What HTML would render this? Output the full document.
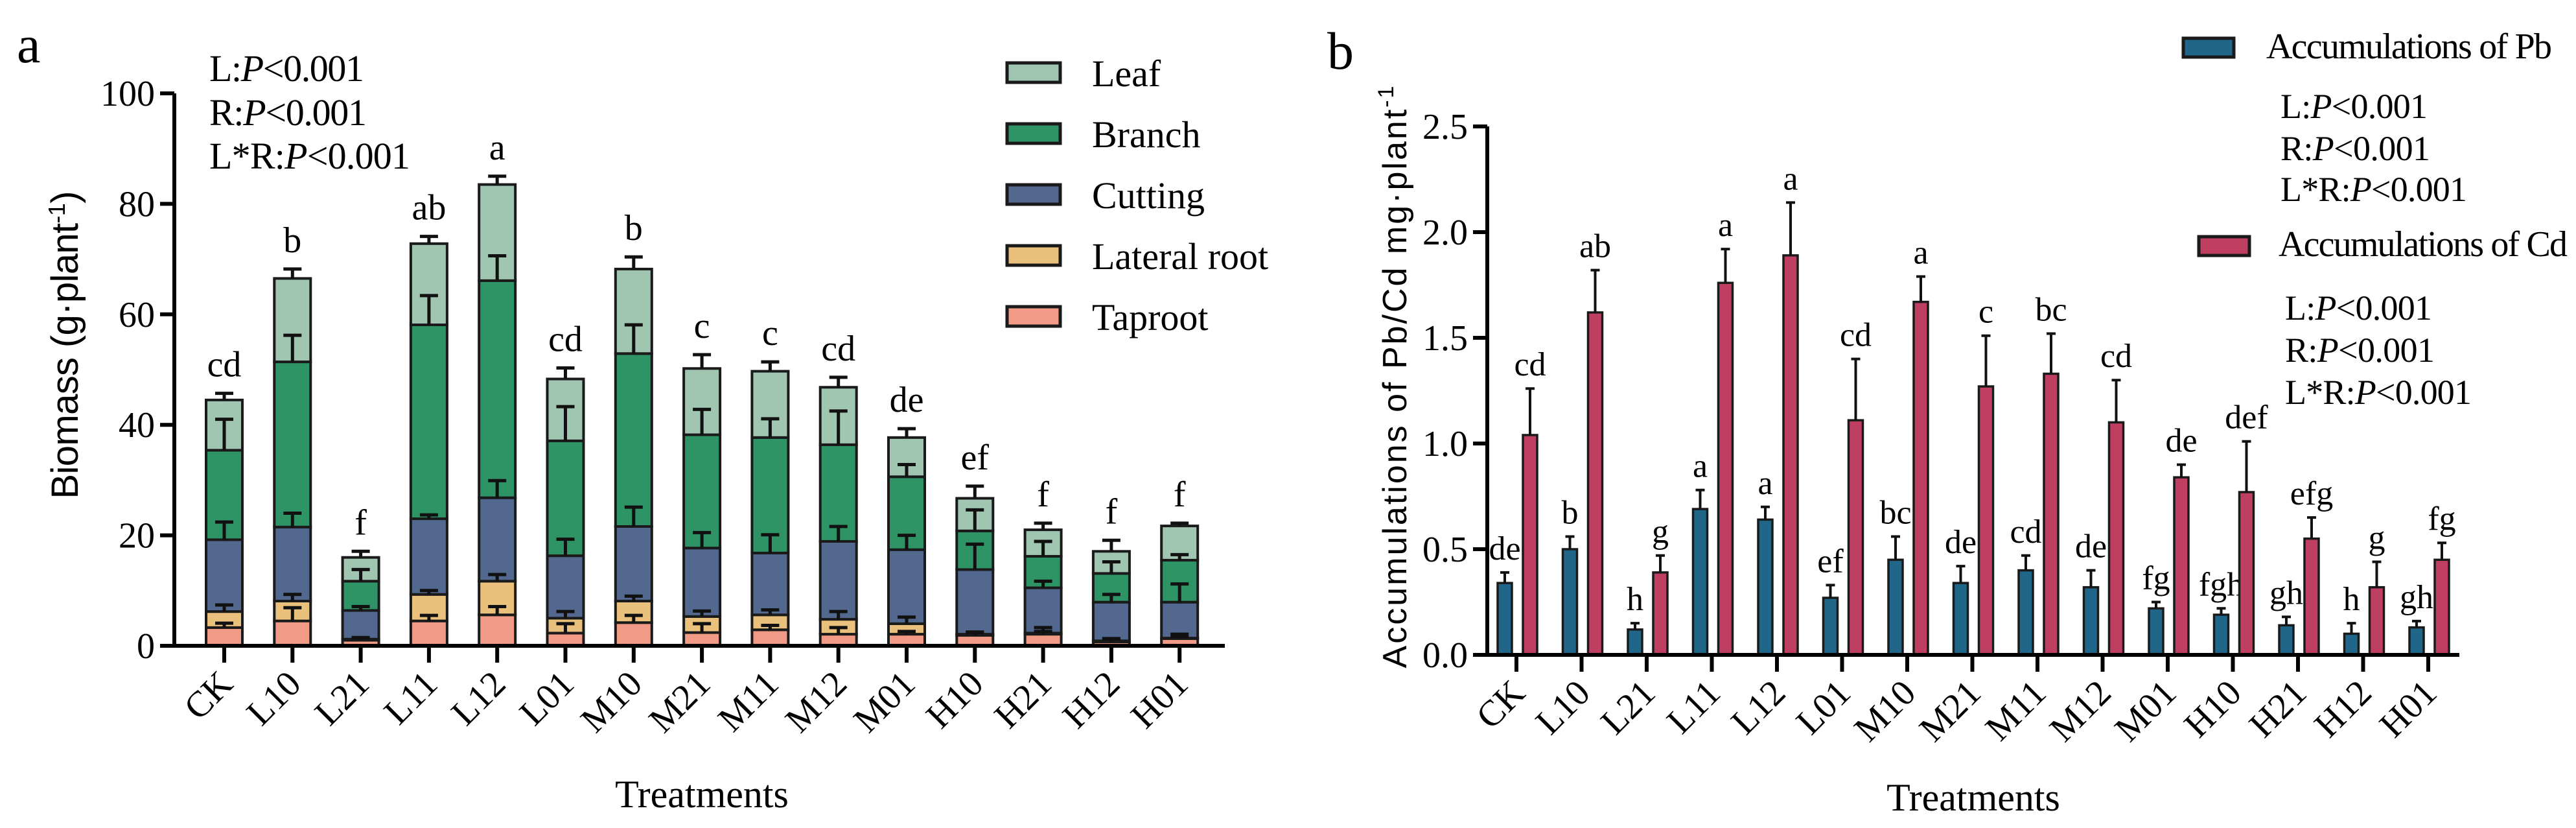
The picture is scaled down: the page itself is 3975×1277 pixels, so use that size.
<!DOCTYPE html>
<html><head><meta charset="utf-8"><style>
html,body{margin:0;padding:0;background:#fff;}
svg{display:block;font-family:"Liberation Serif",serif;}
</style></head><body>
<svg id="fig" xmlns="http://www.w3.org/2000/svg" width="3975" height="1277" viewBox="0 0 3975 1277">
<rect width="3975" height="1277" fill="#fff"/>
<g id="pa"></g>
<g id="pb"></g>
</svg>
<script>
const categories = ["CK","L10","L21","L11","L12","L01","M10","M21","M11","M12","M01","H10","H21","H12","H01"];
// Panel a: segment values (g/plant)
const taproot = [3.3,4.5,1.0,4.5,5.6,2.3,4.2,2.4,2.9,2.1,2.1,1.9,2.1,0.7,1.3];
const lateral = [2.9,3.6,0.2,4.8,6.1,2.7,3.9,2.9,2.7,2.7,1.9,0.2,0.2,0.2,0.1];
const cutting = [13.0,13.4,5.2,13.7,15.1,11.3,13.5,12.4,11.2,14.1,13.4,11.7,8.2,7.0,6.5];
const branch = [16.2,29.9,5.3,35.1,39.3,20.8,31.3,20.5,20.9,17.5,13.2,7.0,5.7,5.2,7.6];
const leaf = [9.1,15.1,4.3,14.7,17.4,11.2,15.3,12.0,12.0,10.4,7.1,5.9,4.8,4.0,6.2];
const taprootSD = [0.8,2.4,0.4,1.0,1.5,1.7,1.3,1.6,0.8,1.2,0.5,0.6,1.2,0.6,0.8];
const lateralSD = [1.2,1.2,0.3,0.7,1.2,1.2,0.9,1.0,0.9,1.4,1.2,0.3,0.3,0.3,0.3];
const cuttingSD = [3.2,2.5,0.7,0.7,3.1,3.0,3.5,2.8,3.3,2.7,2.6,4.6,1.2,1.4,3.3];
const branchSD = [5.6,4.8,2.1,5.3,4.5,6.2,5.2,4.6,3.4,6.1,2.2,3.8,2.7,2.1,1.0];
const leafSD = [1.2,1.7,1.1,1.3,1.5,2.0,2.2,2.5,1.7,1.8,1.6,2.2,1.2,2.0,0.5];
const lettersA = ["cd","b","f","ab","a","cd","b","c","c","cd","de","ef","f","f","f"];
const ticksA = [0,20,40,60,80,100];
// Panel b
const pb = [0.34,0.50,0.12,0.69,0.64,0.27,0.45,0.34,0.40,0.32,0.22,0.19,0.14,0.10,0.13];
const pbSD = [0.05,0.06,0.03,0.09,0.06,0.06,0.11,0.08,0.07,0.08,0.03,0.03,0.04,0.05,0.03];
const cd = [1.04,1.62,0.39,1.76,1.89,1.11,1.67,1.27,1.33,1.10,0.84,0.77,0.55,0.32,0.45];
const cdSD = [0.22,0.20,0.08,0.16,0.25,0.29,0.12,0.24,0.19,0.20,0.06,0.24,0.10,0.12,0.08];
const lettersPb = ["de","b","h","a","a","ef","bc","de","cd","de","fg","fgh","gh","h","gh"];
const lettersCd = ["cd","ab","g","a","a","cd","a","c","bc","cd","de","def","efg","g","fg"];
const ticksB = [0,0.5,1.0,1.5,2.0,2.5];

const NS="http://www.w3.org/2000/svg";
function mk(parent,tag,attrs){const e=document.createElementNS(NS,tag);for(const k in attrs)e.setAttribute(k,attrs[k]);parent.appendChild(e);return e;}

// ---------- Panel A ----------
const A=document.getElementById('pa');
const ax0=269, axEnd=1890, ay0=996, ay100=144;
const ya=v=>ay0-(v/100)*(ay0-ay100);
const xa=i=>346+i*105.3;
const segs=[["taproot",taproot,taprootSD,"#f19a86"],["lateral-root",lateral,lateralSD,"#e9c07c"],["cutting",cutting,cuttingSD,"#52688e"],["branch",branch,branchSD,"#2e9466"],["leaf",leaf,leafSD,"#a0c5b0"]];
const bwA=56;
categories.forEach((c,i)=>{
  let base=0;
  const g=mk(A,'g',{});
  
  
  const errs=[];
  segs.forEach(s=>{
    const v=s[1][i], top=base+v;
    const r=mk(g,'rect',{x:xa(i)-bwA/2,y:ya(top),width:bwA,height:ya(base)-ya(top),fill:s[3],stroke:'#1a1a1a','stroke-width':4});
    
    
    errs.push([top,top+s[2][i]]);
    base=top;
  });
  errs.forEach(e=>{
    const l=mk(g,'path',{d:`M${xa(i)} ${ya(e[0])}V${ya(e[1])}M${xa(i)-14} ${ya(e[1])}H${xa(i)+14}`,stroke:'#111','stroke-width':5,fill:'none'});
    
    
  });
  const t=mk(A,'text',{x:xa(i),y:ya(errs[4][1])-26,'font-size':56,'text-anchor':'middle'});
  t.textContent=lettersA[i];
  
  
  const tk=mk(A,'line',{x1:xa(i),x2:xa(i),y1:ay0,y2:ay0+26,stroke:'#000','stroke-width':6});
  
  
  const lb=mk(A,'text',{x:xa(i)+16,y:ay0+62,'font-size':56,'text-anchor':'end',transform:`rotate(-45 ${xa(i)+16} ${ay0+62})`});
  lb.textContent=c;
  
  
});
{
 const l=mk(A,'path',{d:`M${ax0} ${ay100}V${ay0}M${ax0-20} ${ay0}H${axEnd}`,stroke:'#000','stroke-width':6,fill:'none'});
 
}
ticksA.forEach(v=>{
  const t=mk(A,'line',{x1:ax0-22,x2:ax0,y1:ya(v),y2:ya(v),stroke:'#000','stroke-width':6});
  
  const tx=mk(A,'text',{x:ax0-30,y:ya(v)+19,'font-size':56,'text-anchor':'end'});
  tx.textContent=v;
  
});
</script>
<script>
(function(){
const A=document.getElementById('pa');
function T(x,y,s,txt,name,extra){const e=document.createElementNS(NS,'text');e.setAttribute('x',x);e.setAttribute('y',y);e.setAttribute('font-size',s);if(extra)for(const k in extra)e.setAttribute(k,extra[k]);e.innerHTML=txt;A.appendChild(e);return e;}
T(26,96,82,'a','panel-label-a');
T(323,125,58,'L:<tspan font-style="italic">P</tspan>&lt;0.001','stat-l',{textLength:239});
T(323,193,58,'R:<tspan font-style="italic">P</tspan>&lt;0.001','stat-r',{textLength:243});
T(323,260,58,'L*R:<tspan font-style="italic">P</tspan>&lt;0.001','stat-lr',{textLength:310});
const leg=[["Leaf","#a0c5b0"],["Branch","#2e9466"],["Cutting","#52688e"],["Lateral root","#e9c07c"],["Taproot","#f19a86"]];
leg.forEach((l,i)=>{
 const y=97+i*94;
 const r=document.createElementNS(NS,'rect');
 r.setAttribute('x',1554);r.setAttribute('y',y);r.setAttribute('width',82);r.setAttribute('height',30);r.setAttribute('fill',l[1]);r.setAttribute('stroke','#1a1a1a');r.setAttribute('stroke-width',5);
 
 
 A.appendChild(r);
 T(1685,y+36,58,l[0],'legend-entry');
});
T(1083,1245,60,'Treatments','x-axis-title',{'text-anchor':'middle'});
T(0,0,58,'Biomass (g·plant<tspan font-size="36" dy="-20">-1</tspan><tspan dy="20">)</tspan>','y-axis-title',{'text-anchor':'middle',transform:'translate(120 532) rotate(-90)','font-family':'Liberation Sans, sans-serif',textLength:475});
})();
</script>
<script>
(function(){
const B=document.getElementById('pb');
const bx0=2295, bxEnd=3795, by0=1010, byTop=195;
const yb=v=>by0-(v/2.5)*(by0-byTop);
const xb=i=>2340+i*100.5;
const bw=22;
function bar(i,v,sd,off,col,name,letter){
  const cx=xb(i)+off;
  const r=mk(B,'rect',{x:cx-bw/2,y:yb(v),width:bw,height:by0-yb(v),fill:col,stroke:'#1a1a1a','stroke-width':3.5});
  
  
  const e=mk(B,'path',{d:`M${cx} ${yb(v)}V${yb(v+sd)}M${cx-7} ${yb(v+sd)}H${cx+7}`,stroke:'#111','stroke-width':4,fill:'none'});
  
  
  const t=mk(B,'text',{x:cx,y:yb(v+sd)-20,'font-size':52,'text-anchor':'middle'});
  t.textContent=letter;
  
  
}
categories.forEach((c,i)=>{
  bar(i,pb[i],pbSD[i],-18,'#1f6689','pb',lettersPb[i]);
  bar(i,cd[i],cdSD[i],21,'#bf3f62','cd',lettersCd[i]);
  const tk=mk(B,'line',{x1:xb(i),x2:xb(i),y1:by0,y2:by0+26,stroke:'#000','stroke-width':6});
  
  
  const lb=mk(B,'text',{x:xb(i)+16,y:by0+62,'font-size':56,'text-anchor':'end',transform:`rotate(-45 ${xb(i)+16} ${by0+62})`});
  lb.textContent=c;
  
  
});
const ax=mk(B,'path',{d:`M${bx0} ${byTop}V${by0}M${bx0-20} ${by0}H${bxEnd}`,stroke:'#000','stroke-width':6,fill:'none'});

ticksB.forEach(v=>{
  const t=mk(B,'line',{x1:bx0-22,x2:bx0,y1:yb(v),y2:yb(v),stroke:'#000','stroke-width':6});
  
  const tx=mk(B,'text',{x:bx0-30,y:yb(v)+19,'font-size':56,'text-anchor':'end'});
  tx.textContent=v.toFixed(1);
  
});
function T(x,y,s,txt,name,extra){const e=document.createElementNS(NS,'text');e.setAttribute('x',x);e.setAttribute('y',y);e.setAttribute('font-size',s);if(extra)for(const k in extra)e.setAttribute(k,extra[k]);e.innerHTML=txt;B.appendChild(e);return e;}
T(2048,106,82,'b','panel-label-b');
function sw(x,y,col){const r=mk(B,'rect',{x:x,y:y,width:78,height:29,fill:col,stroke:'#1a1a1a','stroke-width':5});}
sw(3369,59,'#1f6689');
T(3497,90,56,'Accumulations of Pb','legend-entry-pb',{textLength:441});
T(3519,182,54,'L:<tspan font-style="italic">P</tspan>&lt;0.001','stat-pb-l',{textLength:227});
T(3519,247,54,'R:<tspan font-style="italic">P</tspan>&lt;0.001','stat-pb-r',{textLength:231});
T(3519,310,54,'L*R:<tspan font-style="italic">P</tspan>&lt;0.001','stat-pb-lr',{textLength:288});
sw(3393,365,'#bf3f62');
T(3516,395,56,'Accumulations of Cd','legend-entry-cd',{textLength:446});
T(3526,493,54,'L:<tspan font-style="italic">P</tspan>&lt;0.001','stat-cd-l',{textLength:227});
T(3526,558,54,'R:<tspan font-style="italic">P</tspan>&lt;0.001','stat-cd-r',{textLength:231});
T(3526,623,54,'L*R:<tspan font-style="italic">P</tspan>&lt;0.001','stat-cd-lr',{textLength:288});
T(3045,1250,60,'Treatments','x-axis-title',{'text-anchor':'middle'});
T(0,0,52,'Accumulations of Pb/Cd mg·plant<tspan font-size="34" dy="-20">-1</tspan>','y-axis-title',{'text-anchor':'middle',transform:'translate(2170 580) rotate(-90)','font-family':'Liberation Sans, sans-serif','letter-spacing':'3'});
})();
</script>
</body></html>
